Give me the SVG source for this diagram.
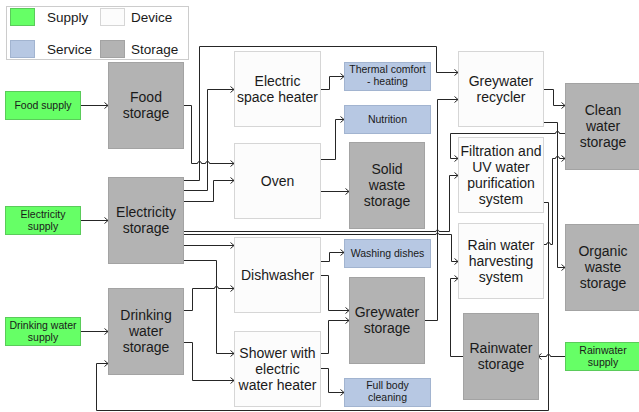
<svg xmlns="http://www.w3.org/2000/svg" width="639" height="412" viewBox="0 0 639 412">
<defs>
<style>
.sup{fill:#66ff66;stroke:#5acb5a;stroke-width:1}
.dev{fill:#fcfcfc;stroke:#d6d6d6;stroke-width:1}
.ser{fill:#b7c8e3;stroke:#a2b4d0;stroke-width:1}
.sto{fill:#b3b3b3;stroke:#a3a3a3;stroke-width:1}
text{font-family:"Liberation Sans",Arial,sans-serif;fill:#1a1a1a;text-anchor:middle}
.big{font-size:14px}
.sm{font-size:10.5px}
.leg{font-size:13.5px;text-anchor:start}
#connectors path{fill:none;stroke:#262626;stroke-width:1;marker-end:url(#arr)}
</style>
<marker id="arr" markerWidth="8" markerHeight="8" refX="6" refY="4" orient="auto" markerUnits="userSpaceOnUse">
<path d="M2.5,1 L6,4 L2.5,7" fill="none" stroke="#262626" stroke-width="1"/>
</marker>
</defs>
<rect width="639" height="412" fill="#ffffff"/>

<g id="legend">
<rect x="6.5" y="6.5" width="182" height="53" fill="#ffffff" stroke="#cccccc"/>
<rect class="sup" x="10.5" y="8.5" width="24" height="17"/>
<text class="leg" x="47" y="21.5">Supply</text>
<rect class="dev" x="100.5" y="8.5" width="24" height="17"/>
<text class="leg" x="131" y="21.5">Device</text>
<rect class="ser" x="10.5" y="40.5" width="24" height="17"/>
<text class="leg" x="47" y="53.5">Service</text>
<rect class="sto" x="100.5" y="40.5" width="24" height="17"/>
<text class="leg" x="131" y="53.5">Storage</text>
</g>

<g id="connectors">
<path d="M80,105.5 H108"/>
<path d="M80,220.5 H108"/>
<path d="M80,331.5 H108"/>
<path d="M183,105.5 H191.5 V163.5 H197.5 a2,2 0 0 1 4,0 H205.5 a2,2 0 0 1 4,0 H234"/>
<path d="M183,180.5 H199.5 V46.5 H436.5 V72.5 H458"/>
<path d="M183,190.5 H207.5 V89.5 H234"/>
<path d="M183,201.5 H213.5 V180.5 H234"/>
<path d="M183,231.5 H436 a1.5,1.5 0 0 1 3,0 H449.5 V175.5 H458"/>
<path d="M183,234.5 H436 a1.5,1.5 0 0 1 3,0 H451.5 V261.5 H458"/>
<path d="M183,245.5 H234"/>
<path d="M183,260.5 H216.5 V353.5 H234"/>
<path d="M183,310.5 H192.5 V288.5 H214.5 a2,2 0 0 1 4,0 H234"/>
<path d="M183,342.5 H192.5 V380.5 H234"/>
<path d="M320,89.5 H329.5 V76.5 H344"/>
<path d="M320,159.5 H335.5 V119.5 H344"/>
<path d="M320,191.5 H349"/>
<path d="M320,261.5 H329.5 V252.5 H344"/>
<path d="M320,275.5 H328.5 V310.5 H349"/>
<path d="M320,353.5 H328.5 V320.5 H349"/>
<path d="M320,368.5 H328.5 V392.5 H344"/>
<path d="M425,320.5 H437.5 V99.5 H458"/>
<path d="M543,89.5 H553.5 V105.5 H565"/>
<path d="M543,122.5 H557.5 V267.5 H565"/>
<path d="M565,133.5 H559.5 a2,2 0 0 0 -4,0 H450.5 V158.5 H458"/>
<path d="M543,244.5 H546.5 a2,2 0 0 1 4,0 H552.5 V158.5 H555.5 a2,2 0 0 1 4,0 H565"/>
<path d="M543,202.5 H548.5 V410.5 H96.5 V363.5 H108"/>
<path d="M565,356.5 H550.5 a2,2 0 0 0 -4,0 H538"/>
<path d="M463,356.5 H450.5 V278.5 H458"/>
</g>

<g id="food-supply"><rect class="sup" x="5.5" y="91.5" width="75" height="28"/><text class="sm" x="43" y="109.2">Food supply</text></g>
<g id="electricity-supply"><rect class="sup" x="5.5" y="206.5" width="75" height="28"/><text class="sm" x="43" y="217.5">Electricity</text><text class="sm" x="43" y="229.5">supply</text></g>
<g id="drinking-water-supply"><rect class="sup" x="5.5" y="317.5" width="75" height="28"/><text class="sm" x="43" y="328.5">Drinking water</text><text class="sm" x="43" y="340.5">supply</text></g>

<g id="food-storage"><rect class="sto" x="108.5" y="62.5" width="75" height="86"/><text class="big" x="146" y="102">Food</text><text class="big" x="146" y="118">storage</text></g>
<g id="electricity-storage"><rect class="sto" x="108.5" y="177.5" width="75" height="86"/><text class="big" x="146" y="217">Electricity</text><text class="big" x="146" y="233">storage</text></g>
<g id="drinking-water-storage"><rect class="sto" x="108.5" y="288.5" width="75" height="86"/><text class="big" x="146" y="320">Drinking</text><text class="big" x="146" y="336">water</text><text class="big" x="146" y="352">storage</text></g>

<g id="electric-space-heater"><rect class="dev" x="234.5" y="51.5" width="86" height="75"/><text class="big" x="277.5" y="85.5">Electric</text><text class="big" x="277.5" y="101.5">space heater</text></g>
<g id="oven"><rect class="dev" x="234.5" y="143.5" width="86" height="75"/><text class="big" x="277.5" y="185.5">Oven</text></g>
<g id="dishwasher"><rect class="dev" x="234.5" y="237.5" width="86" height="75"/><text class="big" x="277.5" y="279.5">Dishwasher</text></g>
<g id="shower"><rect class="dev" x="234.5" y="331.5" width="86" height="75"/><text class="big" x="277.5" y="357.5">Shower with</text><text class="big" x="277.5" y="373.5">electric</text><text class="big" x="277.5" y="389.5">water heater</text></g>

<g id="thermal-comfort"><rect class="ser" x="344.5" y="62.5" width="86" height="28"/><text class="sm" x="387.5" y="73">Thermal comfort</text><text class="sm" x="387.5" y="85">- heating</text></g>
<g id="nutrition"><rect class="ser" x="344.5" y="105.5" width="86" height="28"/><text class="sm" x="387.5" y="123">Nutrition</text></g>
<g id="solid-waste-storage"><rect class="sto" x="349.5" y="142.5" width="75" height="86"/><text class="big" x="387" y="174">Solid</text><text class="big" x="387" y="190">waste</text><text class="big" x="387" y="206">storage</text></g>
<g id="washing-dishes"><rect class="ser" x="344.5" y="239.5" width="86" height="28"/><text class="sm" x="387.5" y="257">Washing dishes</text></g>
<g id="greywater-storage"><rect class="sto" x="349.5" y="277.5" width="75" height="86"/><text class="big" x="387" y="317">Greywater</text><text class="big" x="387" y="333">storage</text></g>
<g id="full-body-cleaning"><rect class="ser" x="344.5" y="378.5" width="86" height="28"/><text class="sm" x="387.5" y="389">Full body</text><text class="sm" x="387.5" y="401">cleaning</text></g>

<g id="greywater-recycler"><rect class="dev" x="458.5" y="51.5" width="85" height="75"/><text class="big" x="501" y="85.5">Greywater</text><text class="big" x="501" y="101.5">recycler</text></g>
<g id="filtration"><rect class="dev" x="458.5" y="137.5" width="85" height="75"/><text class="big" x="501" y="155.5">Filtration and</text><text class="big" x="501" y="171.5">UV water</text><text class="big" x="501" y="187.5">purification</text><text class="big" x="501" y="203.5">system</text></g>
<g id="rain-water-harvesting"><rect class="dev" x="458.5" y="223.5" width="85" height="75"/><text class="big" x="501" y="249.5">Rain water</text><text class="big" x="501" y="265.5">harvesting</text><text class="big" x="501" y="281.5">system</text></g>
<g id="rainwater-storage"><rect class="sto" x="463.5" y="313.5" width="75" height="86"/><text class="big" x="501" y="353">Rainwater</text><text class="big" x="501" y="369">storage</text></g>

<g id="clean-water-storage"><rect class="sto" x="565.5" y="83.5" width="74" height="86"/><text class="big" x="603" y="115">Clean</text><text class="big" x="603" y="131">water</text><text class="big" x="603" y="147">storage</text></g>
<g id="organic-waste-storage"><rect class="sto" x="565.5" y="224.5" width="74" height="86"/><text class="big" x="603" y="256">Organic</text><text class="big" x="603" y="272">waste</text><text class="big" x="603" y="288">storage</text></g>
<g id="rainwater-supply"><rect class="sup" x="565.5" y="342.5" width="74" height="28"/><text class="sm" x="603" y="353.5">Rainwater</text><text class="sm" x="603" y="365.5">supply</text></g>
</svg>
